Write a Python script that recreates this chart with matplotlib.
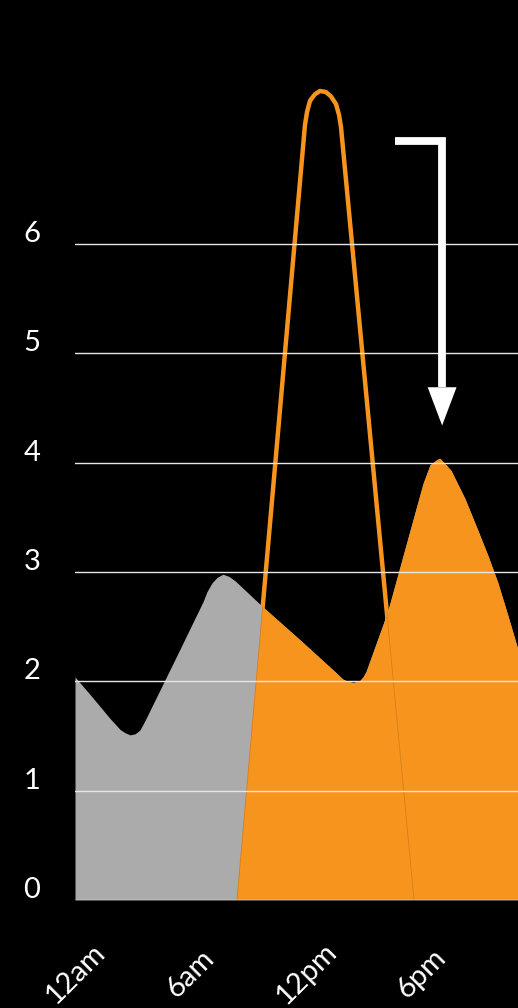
import numpy as np
import matplotlib.pyplot as plt
from matplotlib.patches import Polygon

# ======================
# DONNÉES
# ======================
# courbe grise / orange (heure -> valeur)
curve_h = [0.0, 0.78, 1.82, 2.34, 2.60, 2.86, 3.12, 3.37, 3.63, 5.30, 6.65,
           6.85, 7.11, 7.37, 7.68, 7.99, 8.31, 9.76, 11.68, 13.55, 13.91,
           14.17, 14.43, 14.75, 14.95, 15.11, 15.99, 16.25, 17.55, 18.07,
           18.43, 18.80, 18.95, 19.52, 20.25, 20.92, 21.44, 21.96, 22.48, 23.0]
curve_v = [2.04, 1.88, 1.66, 1.56, 1.53, 1.51, 1.52, 1.555, 1.64, 2.24, 2.73,
           2.82, 2.90, 2.95, 2.98, 2.96, 2.92, 2.68, 2.38, 2.08, 2.02,
           2.00, 1.99, 2.00, 2.04, 2.09, 2.52, 2.65, 3.48, 3.81,
           3.98, 4.03, 4.04, 3.93, 3.67, 3.38, 3.15, 2.90, 2.60, 2.29]

# pic orange (contour)
spike_h = [8.41, 11.94, 12.05, 12.20, 12.46, 12.72, 13.03, 13.29, 13.55,
           13.71, 13.81, 17.60]
spike_v = [0.0, 7.09, 7.21, 7.31, 7.37, 7.40, 7.39, 7.35, 7.28,
           7.18, 7.07, 0.0]
SPIKE_PEAK = 5

y_ticks = [0, 1, 2, 3, 4, 5, 6]
x_ticks = [0, 6, 12, 18]
x_labels = ["12am", "6am", "12pm", "6pm"]

# flèche d'annotation
arrow_h = [16.61, 19.06, 19.06]
arrow_v = [6.94, 6.94, 4.69]
arrow_tip = 4.34
arrow_half = 0.75

ORANGE = "#F7941E"
GRAY = "#ABABAB"
FONT = ["Lato", "DejaVu Sans"]

# ======================
# FIGURE
# ======================
fig = plt.figure(figsize=(5.18, 10.08), dpi=100, facecolor="black")
ax = fig.add_axes([75 / 518, 108 / 1008, 443 / 518, 900 / 1008])
ax.set_facecolor("black")
ax.set_xlim(0, 23)
ax.set_ylim(0, 900 / 109.33)
ax.axis("off")

# ligne épaisse du pic (sous les aires)
ax.plot(spike_h, spike_v, color=ORANGE, lw=3.2, solid_joinstyle="round", zorder=1)

# aire grise
ax.fill_between(curve_h, curve_v, 0, color=GRAY, lw=0, zorder=2)

# aire orange, à droite du flanc gauche du pic
ymax = ax.get_ylim()[1]
clip_pts = list(zip(spike_h[:SPIKE_PEAK + 1], spike_v[:SPIKE_PEAK + 1]))
clip_pts += [(spike_h[SPIKE_PEAK], ymax), (30, ymax), (30, 0)]
clip = Polygon(clip_pts, closed=True, transform=ax.transData, fill=False, visible=False)
ax.add_patch(clip)
orange_fill = ax.fill_between(curve_h, curve_v, 0, color=ORANGE, lw=0, zorder=2.5)
orange_fill.set_clip_path(clip)

# trait fin du pic visible dans l'aire orange
thin, = ax.plot(spike_h, spike_v, color="#D5801A", lw=0.6, zorder=2.6)
fill_path = orange_fill.get_paths()[0]
thin.set_clip_path(fill_path, orange_fill.get_transform())

# grille + étiquettes
for v in y_ticks:
    ax.axhline(v, color="#E6E6E6", lw=1.0, zorder=3)
    ax.annotate(str(v), xy=(0, v), xycoords=("axes fraction", "data"),
                xytext=(-43, 10), textcoords="offset pixels",
                ha="center", va="center", color="white", fontsize=21,
                family=FONT, annotation_clip=False)

for h, lab in zip(x_ticks, x_labels):
    ax.annotate(lab, xy=(h, 0), xycoords="data",
                xytext=(0, -74), textcoords="offset pixels",
                ha="center", va="center", rotation=45, color="white",
                fontsize=21, family=FONT, annotation_clip=False)

# flèche
ax.plot(arrow_h, arrow_v, color="white", lw=5.6, solid_capstyle="butt",
        solid_joinstyle="miter", zorder=5)
hx = arrow_h[-1]
ax.fill([hx - arrow_half, hx + arrow_half, hx],
        [arrow_v[-1], arrow_v[-1], arrow_tip], color="white", lw=0, zorder=5)

fig.savefig("out.png", dpi=100, facecolor="black")
